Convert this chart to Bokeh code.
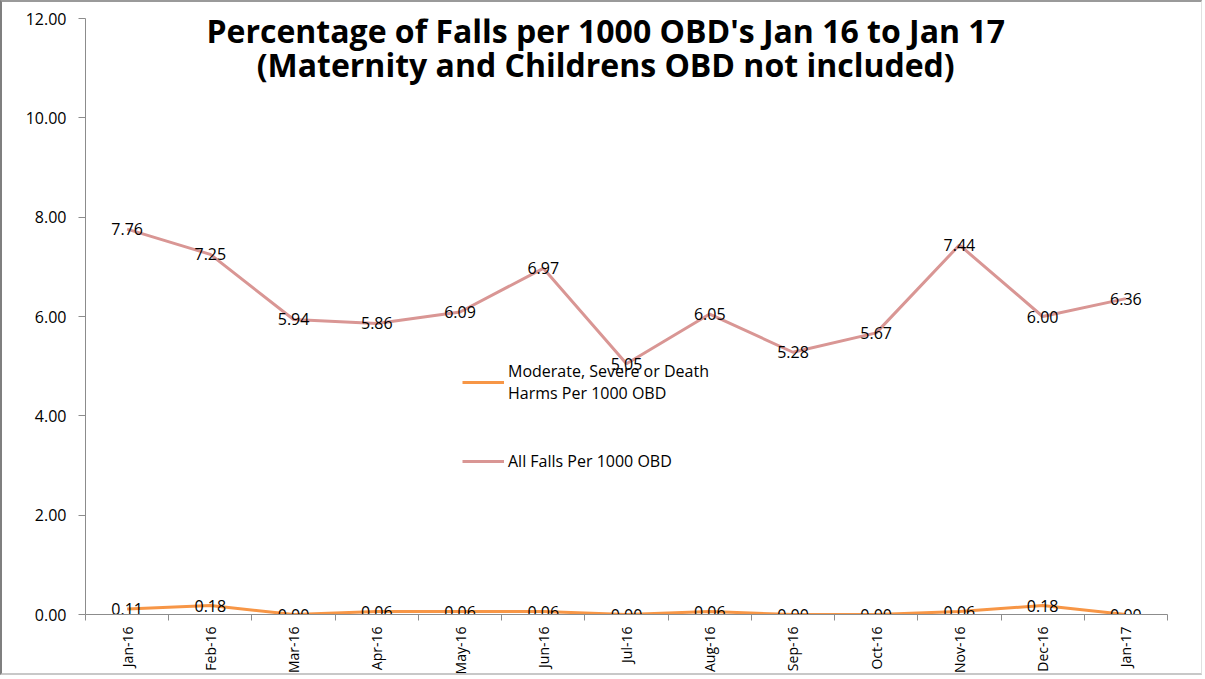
from bokeh.plotting import figure
from bokeh.models import (ColumnDataSource, FixedTicker, Legend, LegendItem, Label,
                          Range1d, CustomJSTickFormatter)
from bokeh.core.properties import value
from bokeh.embed import file_html
from bokeh.resources import INLINE
import math

months = ["Jan-16", "Feb-16", "Mar-16", "Apr-16", "May-16", "Jun-16", "Jul-16",
          "Aug-16", "Sep-16", "Oct-16", "Nov-16", "Dec-16", "Jan-17"]
all_falls = [7.76, 7.25, 5.94, 5.86, 6.09, 6.97, 5.05, 6.05, 5.28, 5.67, 7.44, 6.00, 6.36]
moderate = [0.11, 0.18, 0.00, 0.06, 0.06, 0.06, 0.00, 0.06, 0.00, 0.00, 0.06, 0.18, 0.00]
y_ticks = [0, 2, 4, 6, 8, 10, 12]
title_text = "Percentage of Falls per 1000 OBD's Jan 16 to Jan 17\n(Maternity and Childrens OBD not included)"

n = len(months)
xs = [i + 0.5 for i in range(n)]

src_all = ColumnDataSource(dict(x=xs, y=all_falls, lab=[f"{v:.2f}" for v in all_falls]))
src_mod = ColumnDataSource(dict(x=xs, y=moderate, lab=[f"{v:.2f}" for v in moderate]))

p = figure(width=1202, height=675, output_backend="svg", toolbar_location=None,
           x_range=Range1d(0, n), y_range=Range1d(0, 12),
           min_border_left=83, min_border_right=37, min_border_top=16, min_border_bottom=40)
p.outline_line_color = None
p.xgrid.grid_line_color = None
p.ygrid.grid_line_color = None
p.styles = {"border-left": "2px solid #7f7f7f", "border-top": "2px solid #9a9a9a",
            "border-right": "1px solid #e0e0e0", "border-bottom": "2px solid #c8c8c8"}

ORANGE = "#F79646"
ROSE = "#D99694"

r_mod = p.line("x", "y", source=src_mod, line_color=ORANGE, line_width=3)
r_all = p.line("x", "y", source=src_all, line_color=ROSE, line_width=3)

font = value("Open Sans")
for src in (src_all, src_mod):
    p.text("x", "y", text="lab", source=src, text_align="center", text_baseline="middle",
           text_font=font, text_font_size="16px", text_color="#000000")

# axes
xa = p.xaxis[0]
xa.ticker = FixedTicker(ticks=xs, minor_ticks=list(range(n + 1)))
xa.major_label_overrides = {x: m for x, m in zip(xs, months)}
xa.major_label_orientation = math.pi / 2
xa.major_tick_out = 0
xa.major_tick_in = 0
xa.minor_tick_out = 6
xa.minor_tick_in = 0
xa.axis_line_color = "#8c8c8c"
xa.minor_tick_line_color = "#8c8c8c"
xa.major_label_text_font = "Open Sans"
xa.major_label_text_font_size = "14px"
xa.major_label_text_color = "#000000"
xa.major_label_standoff = 6

ya = p.yaxis[0]
ya.ticker = FixedTicker(ticks=y_ticks, minor_ticks=[])
ya.formatter = CustomJSTickFormatter(code="return tick.toFixed(2);")
ya.major_tick_out = 7
ya.major_tick_in = 0
ya.axis_line_color = "#8c8c8c"
ya.major_tick_line_color = "#8c8c8c"
ya.major_label_text_font = "Open Sans"
ya.major_label_text_font_size = "16px"
ya.major_label_text_color = "#000000"
ya.major_label_standoff = 12

legend = Legend(items=[
    LegendItem(label="Moderate, Severe or Death\nHarms Per 1000 OBD", renderers=[r_mod]),
    LegendItem(label="All Falls Per 1000 OBD", renderers=[r_all]),
], location=(377, 142), orientation="vertical")
legend.background_fill_alpha = 0
legend.border_line_color = None
legend.padding = 0
legend.margin = 0
legend.spacing = 46
legend.glyph_width = 42
legend.label_standoff = 4
legend.label_text_font = "Open Sans"
legend.label_text_font_size = "16px"
legend.label_text_line_height = 0.9
legend.label_text_color = "#000000"
p.add_layout(legend, "center")

title = Label(x=n / 2 - 0.25, y=12, text=title_text, text_align="center", text_baseline="top",
              text_font="Open Sans", text_font_style="bold", text_font_size="32px",
              text_line_height=0.8, y_offset=10, text_color="#000000")
p.add_layout(title)

open("out.html", "w").write(file_html(p, INLINE))
